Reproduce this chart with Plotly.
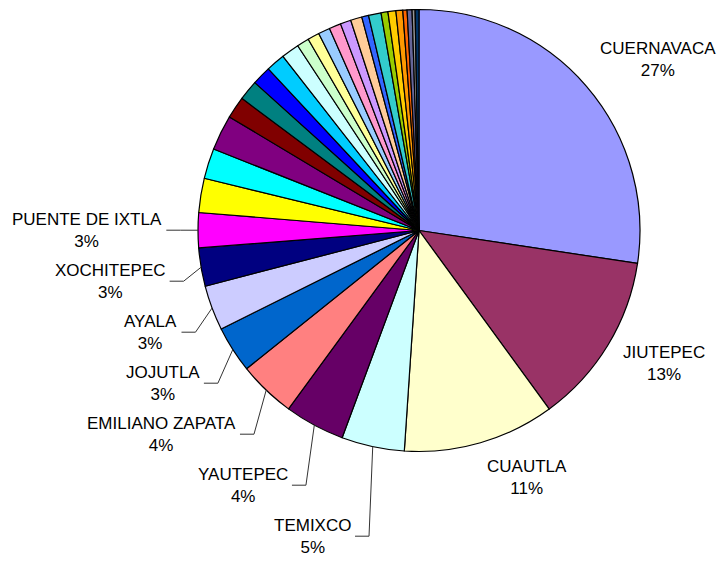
import math
import plotly.graph_objects as go

# municipios (orden de la grafica, sentido horario desde las 12)
municipios = ['CUERNAVACA', 'JIUTEPEC', 'CUAUTLA', 'TEMIXCO', 'YAUTEPEC',
              'EMILIANO ZAPATA', 'JOJUTLA', 'AYALA', 'XOCHITEPEC', 'PUENTE DE IXTLA',
              'TLALTIZAPAN', 'ZACATEPEC', 'YECAPIXTLA', 'TEPOZTLAN', 'TLAQUILTENANGO',
              'AXOCHIAPAN', 'MIACATLAN', 'TEPALCINGO', 'JANTETELCO', 'AMACUZAC',
              'JONACATEPEC', 'TLAYACAPAN', 'ATLATLAHUCAN', 'TETELA DEL VOLCAN', 'HUITZILAC',
              'OCUITUCO', 'COATLAN DEL RIO', 'MAZATEPEC', 'TOTOLAPAN', 'TEMOAC',
              'TETECALA', 'ZACUALPAN', 'TLALNEPANTLA']
porcentaje = [27.4, 12.6, 11.1, 4.6, 4.4,
              4.2, 3.4, 3.3, 2.8, 2.56,
              2.5, 2.22, 2.58, 1.61, 1.47,
              1.39, 1.39, 1.31, 0.89, 0.86,
              0.86, 0.86, 0.78, 0.83, 0.5,
              0.92, 0.5, 0.58, 0.5, 0.31,
              0.36, 0.22, 0.28]
etiquetados = municipios[:10]

colores = ['#9999FF', '#993366', '#FFFFCC', '#CCFFFF', '#660066', '#FF8080', '#0066CC',
           '#CCCCFF', '#000080', '#FF00FF', '#FFFF00', '#00FFFF', '#800080', '#800000',
           '#008080', '#0000FF', '#00CCFF', '#CCFFFF', '#CCFFCC', '#FFFF99', '#99CCFF',
           '#FF99CC', '#CC99FF', '#FFCC99', '#3366FF', '#33CCCC', '#99CC00', '#FFCC00',
           '#FF9900', '#FF6600', '#666699', '#969696', '#003366']

W, H = 722, 562
cx, cy, R = 419, 230.5, 221   # pixeles
FONT = dict(family='Arial, Liberation Sans, sans-serif', size=17, color='black')

def px(x, y):
    return x / W, 1 - y / H

fig = go.Figure(go.Pie(
    labels=municipios, values=porcentaje, sort=False, direction='clockwise', rotation=0,
    marker=dict(colors=colores, line=dict(color='black', width=1.2)),
    textinfo='none', showlegend=False,
    domain=dict(x=[(cx - R) / W, (cx + R) / W], y=[1 - (cy + R) / H, 1 - (cy - R) / H]),
))

total = sum(porcentaje)
acum = 0
derecha, izquierda = [], []
for nombre, v in zip(municipios, porcentaje):
    a0 = acum
    acum += v
    if nombre not in etiquetados:
        continue
    th = math.radians((a0 + v / 2) / total * 360)
    texto = '%s<br>%d%%' % (nombre, round(v / total * 100))
    (derecha if math.sin(th) >= 0 else izquierda).append((th, texto))

annotations, shapes = [], []
for th, texto in derecha:
    # lado derecho, sin linea guia
    s, c = math.sin(th), math.cos(th)
    ax = cx + 1.07 * R * s
    ay = cy - 1.07 * R * c - 23 * c - 2
    x, y = px(ax, ay)
    annotations.append(dict(x=x, y=y, xref='paper', yref='paper', text=texto,
                            showarrow=False, xanchor='left', yanchor='middle',
                            align='center', font=FONT))

y_prev = None
for th, texto in sorted(izquierda, reverse=True):
    s, c = math.sin(th), math.cos(th)
    ex, ey = cx + R * s, cy - R * c
    ly = cy - 1.1 * R * c
    if y_prev is not None and ly < y_prev + 51:
        ly = y_prev + 51
    y_prev = ly
    bx = cx + 1.08 * R * s
    lx = bx - 14
    p = px(ex, ey) + px(bx, ly) + px(lx, ly)
    shapes.append(dict(type='path', xref='paper', yref='paper',
                       path='M %f,%f L %f,%f L %f,%f' % p,
                       line=dict(color='#333333', width=1)))
    x, y = px(lx - 2, ly)
    annotations.append(dict(x=x, y=y, xref='paper', yref='paper', text=texto,
                            showarrow=False, xanchor='right', yanchor='middle',
                            align='center', font=FONT))

fig.update_layout(width=W, height=H, margin=dict(l=0, r=0, t=0, b=0),
                  paper_bgcolor='white', plot_bgcolor='white',
                  annotations=annotations, shapes=shapes)
fig.write_html("out.html", config={'displayModeBar': False},
               post_script="document.body.style.margin='0';")
